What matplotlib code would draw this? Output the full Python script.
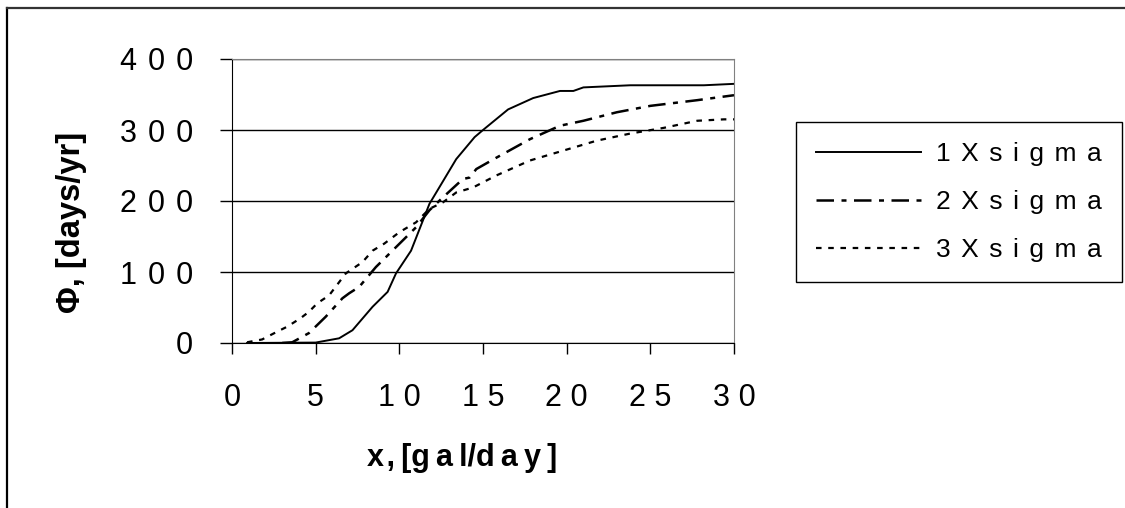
import matplotlib.pyplot as plt
from matplotlib.lines import Line2D

plt.rcParams['font.family'] = ['Liberation Sans', 'DejaVu Sans']

# 1X sigma
x1 = [0.9, 5.0, 6.4, 7.2, 8.4, 9.3, 9.8, 10.7, 11.8, 13.4, 14.5, 15.0, 16.5,
      18.0, 19.6, 20.4, 21.0, 23.8, 28.2, 30.0]
y1 = [0, 0.6, 6.6, 18, 51, 72, 98, 130, 196, 259, 290, 300, 329,
      345, 355, 355, 360, 363, 363, 365]

# 2X sigma
x2 = [3.0, 3.6, 4.6, 5.6, 6.6, 7.0, 7.6, 8.6, 9.8, 11.0, 11.8, 12.6, 13.8,
      14.2, 14.6, 15.8, 17.8, 19.6, 21.0, 23.0, 25.0, 27.8, 30.0]
y2 = [0, 1, 14, 37, 63, 70, 79, 107, 135, 163, 187, 205, 231,
      233, 245, 261, 287, 306, 313, 325, 334, 342, 349]

# 3X sigma
x3 = [0.9, 1.8, 2.7, 3.3, 4.1, 4.6, 5.1, 5.8, 6.8, 7.8, 8.4, 9.1, 10.0,
      11.0, 11.8, 12.6, 13.4, 14.4, 15.8, 17.8, 19.8, 21.8, 23.8, 25.8,
      27.8, 29.4, 30.0]
y3 = [1, 5, 16, 23, 35, 44, 56, 67, 98, 114, 130, 140, 156,
      170, 189, 198, 212, 219, 236, 257, 271, 285, 295, 303,
      313, 315, 315]

labels = ["1Xsigma", "2Xsigma", "3Xsigma"]
x_ticks = [0, 5, 10, 15, 20, 25, 30]
y_ticks = [0, 100, 200, 300, 400]


def spaced(s, gap):
    # the original chart renders its text with wide letter spacing
    return gap.join(s)


W, H = 1125, 508
fig = plt.figure(figsize=(W / 100, H / 100), dpi=100)
ax = fig.add_axes([232 / W, 1 - 343 / H, (734 - 232) / W, (343 - 59) / H])

lgap = '\u2009\u2009'
ax.plot(x1, y1, color='black', lw=1.4, ls='-', label=spaced(labels[0], lgap))
ax.plot(x2, y2, color='black', lw=1.8, ls=(0, (7, 3, 2, 3)),
        label=spaced(labels[1], lgap))
ax.plot(x3, y3, color='black', lw=1.6, ls=(0, (2.5, 3)),
        label=spaced(labels[2], lgap))

ax.set_xlim(0, 30)
ax.set_ylim(0, 400)
ax.set_xticks(x_ticks)
ax.set_xticklabels([spaced(str(v), '\u2009\u200a') for v in x_ticks])
ax.set_yticks(y_ticks)
ax.set_yticklabels([spaced(str(v), ' \u200a') for v in y_ticks])
ax.tick_params(axis='both', direction='out', width=1, labelsize=22)
ax.tick_params(axis='y', length=9, pad=19)
ax.tick_params(axis='x', length=8, pad=21)
ax.yaxis.grid(True, color='black', lw=1)
ax.set_axisbelow(True)
for s in ['top', 'right']:
    ax.spines[s].set_color('#808080')
for s in ['left', 'bottom']:
    ax.spines[s].set_color('black')

fig.text(462 / W, 1 - 458 / H, "x\u200a,\u2009[g\u2009a\u2009l/d\u2009a\u2009y\u2009]",
         ha='center', va='center', fontsize=22, fontweight='bold')
fig.text(71 / W, 1 - 222 / H, "Φ, [days/yr]", ha='center', va='center',
         fontsize=23.5, fontweight='bold', rotation=90)

leg = ax.legend(loc='upper left', bbox_to_anchor=(796 / W, 1 - 122 / H),
                bbox_transform=fig.transFigure, borderaxespad=0,
                fontsize=19, handlelength=4.0, handletextpad=0.55,
                labelspacing=0.92, borderpad=0.75, fancybox=False,
                framealpha=1, edgecolor='black')
leg.get_frame().set_linewidth(1)

# outer chart border (clipped at right/bottom)
fig.add_artist(Line2D([7 / W, 7 / W], [1 - 8 / H, 0], color='black', lw=1.6,
                      transform=fig.transFigure))
fig.add_artist(Line2D([7 / W, 1], [1 - 8 / H, 1 - 8 / H], color='#333333', lw=1.6,
                      transform=fig.transFigure))

fig.savefig("out.png", dpi=100)
